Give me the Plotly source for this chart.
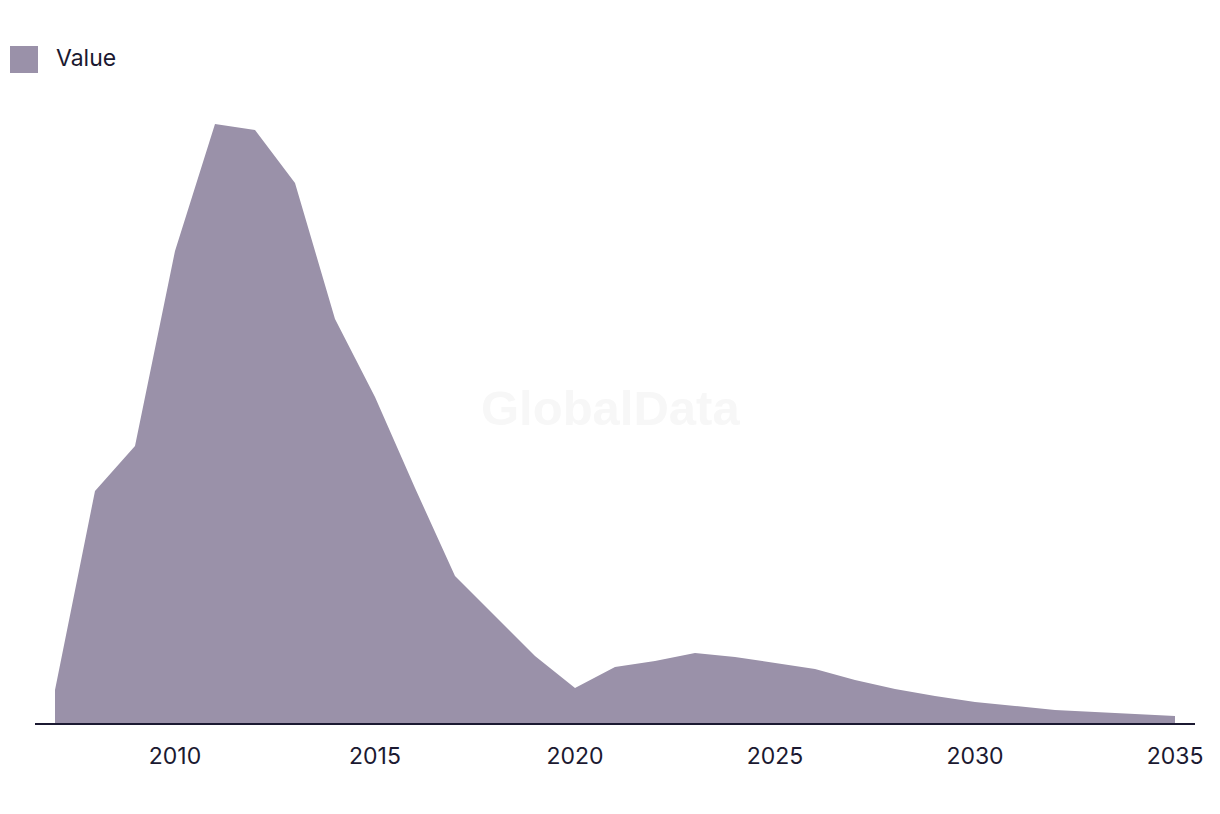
import plotly.graph_objects as go

years = list(range(2007, 2036))
values = [33, 232, 277, 472, 599, 593, 540, 404, 326, 235, 147, 107, 67, 35,
          56, 62, 70, 66, 60, 54, 43, 34, 27, 21, 17, 13, 11, 9, 7]
tick_vals = [2010, 2015, 2020, 2025, 2030, 2035]
tick_text = ["2010", "2015", "2020", "2025", "2030", "2035"]
series_name = "Value"

FILL = "#9A91A9"
INK = "#1B1931"

fig = go.Figure()
fig.add_trace(go.Scatter(
    x=years, y=values, mode="lines", fill="tozeroy",
    fillcolor=FILL, line=dict(width=0, color=FILL),
    name=series_name, showlegend=False, hoverinfo="x+y",
))

fig.update_layout(
    width=1220, height=814,
    margin=dict(l=35, r=25, t=100, b=91),
    paper_bgcolor="white", plot_bgcolor="white",
    font=dict(family="Inter, Roboto, sans-serif", color=INK, size=23),
    xaxis=dict(range=[2006.5, 2035.5], tickvals=tick_vals, ticktext=tick_text,
               showgrid=False, zeroline=False, showline=True, linecolor=INK,
               linewidth=1.5, ticks="", ticklabelstandoff=12,
               tickfont=dict(size=23, color=INK)),
    yaxis=dict(range=[0, 623], visible=False, showgrid=False, zeroline=False),
    shapes=[dict(type="rect", xref="paper", yref="paper",
                 x0=-25/1160, x1=3/1160, y0=(723-73)/623, y1=(723-46)/623,
                 fillcolor=FILL, line=dict(width=0), layer="above")],
    annotations=[
        dict(text="GlobalData", xref="paper", yref="paper",
             x=(610-35)/1160, y=(723-408)/623, showarrow=False,
             font=dict(family="Liberation Sans, Arial, sans-serif", size=49,
                       color="#F7F7F7", weight="bold")),
        dict(text=series_name, xref="paper", yref="paper",
             x=(54-35)/1160, y=(723-58)/623, xanchor="left", yanchor="middle",
             showarrow=False, font=dict(size=23, color=INK)),
    ],
)

fig.write_html("out.html")
